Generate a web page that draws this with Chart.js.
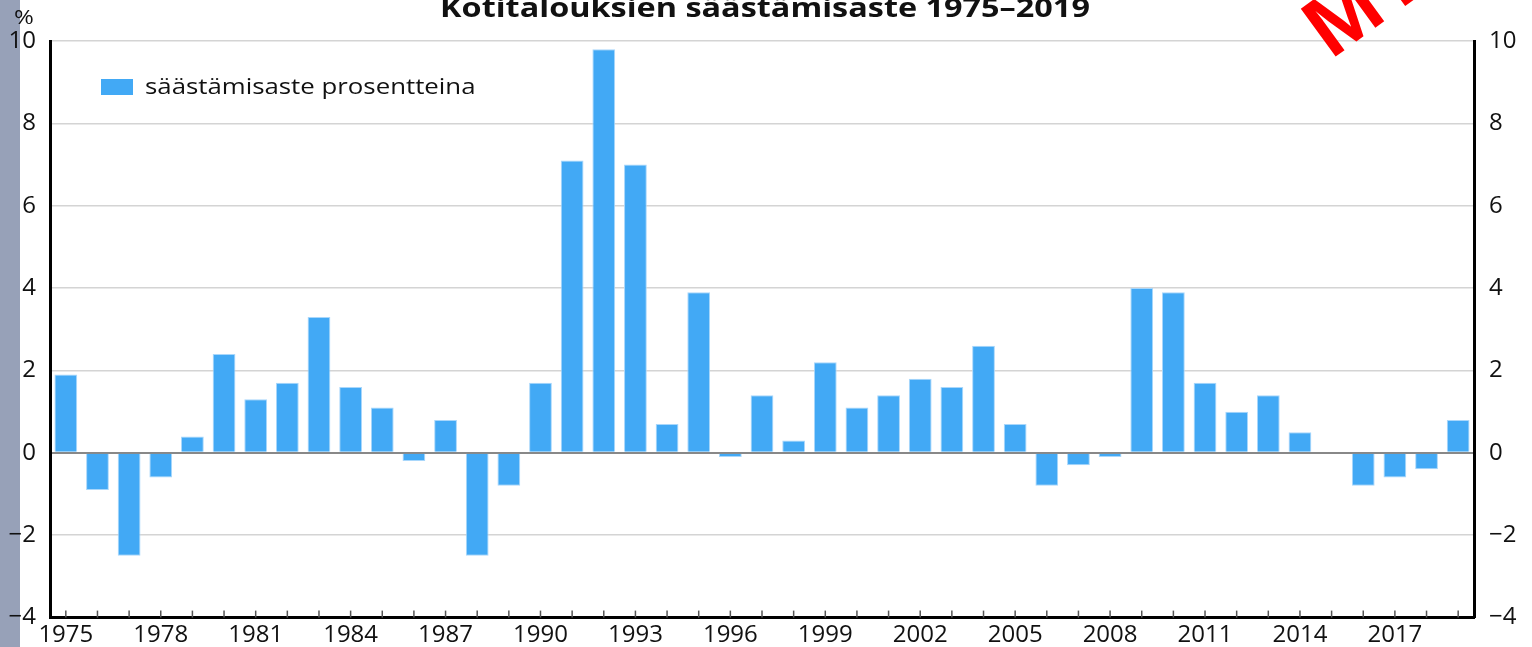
<!DOCTYPE html>
<html lang="fi">
<head>
<meta charset="utf-8">
<title>Kotitalouksien säästämisaste 1975–2019</title>
<script src="https://cdn.jsdelivr.net/npm/chart.js@4.4.1/dist/chart.umd.min.js"></script>
<style>
  html, body { margin: 0; padding: 0; background: #fff; }
  #wrap { position: relative; width: 1532px; height: 647px; }
</style>
</head>
<body>
<div id="wrap"><canvas id="savingsChart"></canvas></div>
<script>
// Data
const years = [];
for (let y = 1975; y <= 2019; y++) years.push(String(y));

const savingRate = [
    1.9, -0.9, -2.5, -0.6, 0.4, 2.4, 1.3, 1.7, 3.3, 1.6,   // 1975-1984
    1.1, -0.2, 0.8, -2.5, -0.8, 1.7, 7.1, 9.8, 7.0, 0.7,   // 1985-1994
    3.9, -0.1, 1.4, 0.3, 2.2, 1.1, 1.4, 1.8, 1.6, 2.6,     // 1995-2004
    0.7, -0.8, -0.3, -0.1, 4.0, 3.9, 1.7, 1.0, 1.4, 0.5,   // 2005-2014
    0, -0.8, -0.6, -0.4, 0.8                               // 2015-2019
];

const yTicks = [-4, -2, 0, 2, 4, 6, 8, 10];
const xLabelYears = ['1975', '1978', '1981', '1984', '1987', '1990', '1993',
                     '1996', '1999', '2002', '2005', '2008', '2011', '2014', '2017'];

const titleText = 'Kotitalouksien säästämisaste 1975–2019';
const legendText = 'säästämisaste prosentteina';

const barBlue = '#42a9f5';
const FONT = '"Open Sans", "Noto Sans", sans-serif';
const STRETCH = 1.2;   // the source picture is stretched sideways

// minus sign like in the original
function fmtTick(v) {
    return v < 0 ? '\u2212' + Math.abs(v) : String(v);
}

// text drawn wider than normal, like the source
function wideText(ctx, text, x, y, align) {
    ctx.save();
    ctx.translate(x, y);
    ctx.scale(STRETCH, 1);
    ctx.textAlign = align;
    ctx.fillText(text, 0, 0);
    ctx.restore();
}

// Decorations: gray strip, title, % label, legend, small x ticks, watermark
const decorPlugin = {
    id: 'decor',
    beforeDraw(chart) {
        const ctx = chart.ctx;
        ctx.save();
        ctx.fillStyle = '#97a1b8';
        ctx.fillRect(0, 0, 20, chart.height);
        ctx.restore();
    },
    afterDraw(chart) {
        const ctx = chart.ctx;
        const area = chart.chartArea;
        const xs = chart.scales.x;
        ctx.save();
        ctx.textBaseline = 'alphabetic';

        // title (cut off at the top like the source)
        ctx.fillStyle = '#111';
        ctx.font = 'bold 27px ' + FONT;
        wideText(ctx, titleText, 765, 17, 'center');

        // unit label
        ctx.font = '20px ' + FONT;
        wideText(ctx, '%', 14, 24, 'left');

        // legend inside plot
        ctx.fillStyle = barBlue;
        ctx.fillRect(101, 79, 32, 16);
        ctx.fillStyle = '#111';
        ctx.font = '21.5px ' + FONT;
        wideText(ctx, legendText, 145, 94, 'left');

        // small tick marks pointing up from the x axis
        ctx.strokeStyle = '#555';
        ctx.lineWidth = 1.5;
        years.forEach((yr, i) => {
            const px = xs.getPixelForValue(i);
            ctx.beginPath();
            ctx.moveTo(px, area.bottom - 7);
            ctx.lineTo(px, area.bottom);
            ctx.stroke();
        });

        // red watermark
        ctx.translate(1331, 60);
        ctx.rotate(-0.63);
        ctx.fillStyle = '#ff0000';
        ctx.font = 'bold 86px "Liberation Sans", Arial, sans-serif';
        ctx.textAlign = 'left';
        ctx.fillText('MT', 0, 0);
        ctx.restore();
    }
};

const ctx = document.getElementById('savingsChart');

new Chart(ctx, {
    type: 'bar',
    data: {
        labels: years,
        datasets: [{
            label: legendText,
            data: savingRate,
            backgroundColor: barBlue,
            borderColor: '#a9d7fb',
            borderWidth: 1,
            barPercentage: 0.72,
            categoryPercentage: 1.0,
            yAxisID: 'y'
        }]
    },
    options: {
        responsive: true,
        maintainAspectRatio: false,
        animation: false,
        devicePixelRatio: 1,
        layout: {
            padding: { top: 41, left: 0, right: 0, bottom: 0 }
        },
        plugins: {
            legend: { display: false },
            title: { display: false },
            tooltip: { enabled: false }
        },
        scales: {
            x: {
                offset: true,
                grid: { display: false, drawTicks: false },
                border: { color: '#000', width: 3 },
                ticks: {
                    autoSkip: false,
                    maxRotation: 0,
                    padding: 3,
                    color: '#111',
                    font: { family: FONT, size: 24 },
                    callback: function(value, index) {
                        const lbl = years[index];
                        return xLabelYears.includes(lbl) ? lbl : '';
                    }
                },
                afterFit: function(scale) { scale.height = 28; }
            },
            y: {
                position: 'left',
                min: yTicks[0],
                max: yTicks[yTicks.length - 1],
                grid: {
                    drawTicks: false,
                    color: (c) => c.tick && c.tick.value === 0 ? '#888' : '#d4d4d4',
                    lineWidth: (c) => c.tick && c.tick.value === 0 ? 2 : 1.5
                },
                border: { color: '#000', width: 3 },
                afterBuildTicks: function(scale) {
                    scale.ticks = yTicks.map(v => ({ value: v }));
                },
                ticks: {
                    padding: 14,
                    color: '#111',
                    font: { family: FONT, size: 24 },
                    callback: fmtTick
                },
                afterFit: function(scale) { scale.width = 50; }
            },
            y2: {
                position: 'right',
                min: yTicks[0],
                max: yTicks[yTicks.length - 1],
                grid: { drawOnChartArea: false, drawTicks: false },
                border: { color: '#000', width: 3 },
                afterBuildTicks: function(scale) {
                    scale.ticks = yTicks.map(v => ({ value: v }));
                },
                ticks: {
                    padding: 15,
                    color: '#111',
                    font: { family: FONT, size: 24 },
                    callback: fmtTick
                },
                afterFit: function(scale) { scale.width = 58; }
            }
        }
    },
    plugins: [decorPlugin]
});
</script>
</body>
</html>
